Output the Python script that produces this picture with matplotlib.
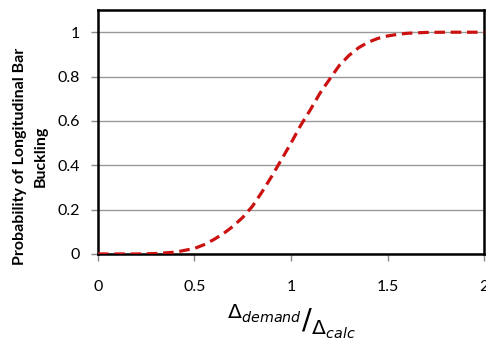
import matplotlib
matplotlib.use('Agg')
import matplotlib.pyplot as plt

# demand/capacity ratio and probability of bar buckling
ratio = [0.0, 0.2, 0.3, 0.4, 0.5, 0.55, 0.6, 0.65, 0.7, 0.75, 0.8, 0.85, 0.9, 0.95,
         1.0, 1.05, 1.1, 1.15, 1.2, 1.25, 1.3, 1.35, 1.4, 1.45, 1.5, 1.55, 1.6,
         1.7, 1.8, 2.0]
prob = [0.0, 0.0, 0.002, 0.008, 0.025, 0.042, 0.065, 0.092, 0.125, 0.165, 0.215, 0.28,
        0.35, 0.425, 0.50, 0.58, 0.65, 0.725, 0.788, 0.85, 0.895, 0.93, 0.955, 0.972,
        0.983, 0.99, 0.995, 0.999, 1.0, 1.0]

xticks = [0, 0.5, 1, 1.5, 2]
xtick_labels = ['0', '0.5', '1', '1.5', '2']
yticks = [0, 0.2, 0.4, 0.6, 0.8, 1]
ytick_labels = ['0', '0.2', '0.4', '0.6', '0.8', '1']

fig = plt.figure(figsize=(4.86, 3.46), dpi=100)
ax = fig.add_axes([0.2016, 0.266, 0.7944, 0.705])

ax.plot(ratio, prob, color='#cc1111', lw=2.3, ls=(0, (3.3, 1.8)), zorder=3)

ax.set_xlim(0, 2)
ax.set_ylim(0, 1.1)
ax.set_xticks(xticks)
ax.set_xticklabels(xtick_labels, fontsize=11.5, family='Lato')
ax.set_yticks(yticks)
ax.set_yticklabels(ytick_labels, fontsize=11.5, family='Lato')
ax.tick_params(direction='out', length=5, width=1, color='#888888')
ax.tick_params(axis='x', pad=14)
ax.tick_params(axis='y', pad=8)
ax.yaxis.grid(True, color='#999999', lw=1)
ax.set_axisbelow(True)
for s in ax.spines.values():
    s.set_linewidth(1.8)
    s.set_color('black')

ax.set_ylabel('Probability of Longitudinal Bar\nBuckling', fontsize=11.5,
              fontweight='bold', family='Lato', linespacing=1.6)
ax.yaxis.set_label_coords(-0.13, 0.40)
ax.set_xlabel(r'$^{\Delta_{demand}}/_{\Delta_{calc}}$', fontsize=21, labelpad=6)

fig.savefig('out.png', dpi=100)
plt.close()
